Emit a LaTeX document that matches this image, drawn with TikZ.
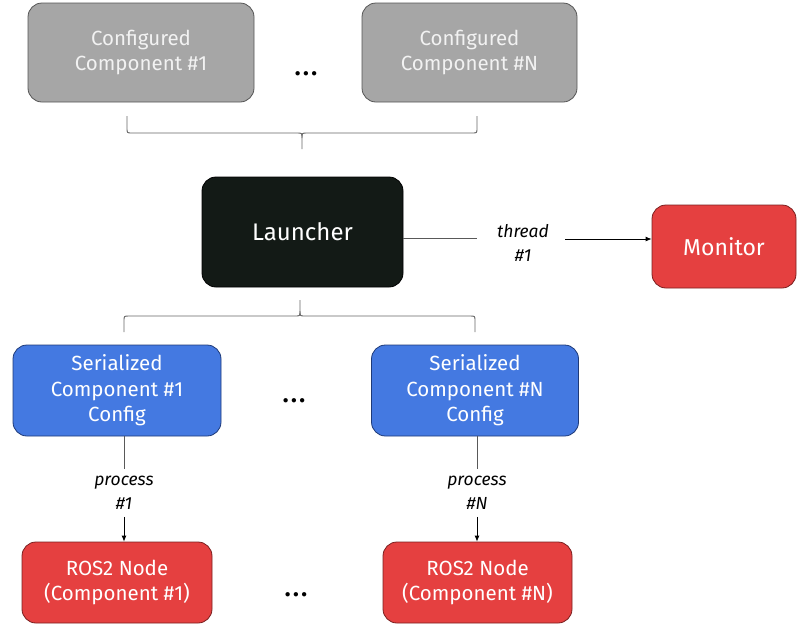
\documentclass[tikz,border=0pt]{standalone}
\usepackage{fontspec}
\setmainfont{Fira Sans}
\usetikzlibrary{arrows.meta}
\definecolor{cfggray}{HTML}{A6A6A6}
\definecolor{cfgline}{HTML}{555555}
\definecolor{launchfill}{HTML}{131A16}
\definecolor{nodered}{HTML}{E54040}
\definecolor{redline}{HTML}{7A1F1F}
\definecolor{serblue}{HTML}{4479E1}
\definecolor{blueline}{HTML}{1E3A78}
\tikzset{
  box/.style={rounded corners=14pt,draw,line width=.8pt,text=white,
    align=center,inner sep=0pt,font=\fontsize{20.5}{25.5}\selectfont},
  cfgbox/.style={box,fill=cfggray,draw=cfgline,text=white!95!black},
  launchbox/.style={box,fill=launchfill,draw=black,
    font=\fontsize{24}{28}\selectfont},
  redbox/.style={box,fill=nodered,draw=redline},
  bluebox/.style={box,fill=serblue,draw=blueline},
  lbl/.style={align=center,inner sep=0pt,font=\itshape\fontsize{17.5}{24}\selectfont},
  dots/.style={inner sep=0pt,font=\bfseries\fontsize{24}{26}\selectfont},
  brc/.style={draw=black!60,line width=.9pt},
  link/.style={draw=black!65,line width=.8pt},
  arr/.style={link,draw=black,-{Latex[length=6pt,width=5pt]}}
}
\newcommand\ddd{.\kern2.5pt.\kern2.5pt.}
\begin{document}
\begin{tikzpicture}[x=1pt,y=-1pt]
  \useasboundingbox (0,0) rectangle (802,633);
  % configured components
  \node[cfgbox,minimum width=226pt,minimum height=99pt] (cfg1) at (141,52.5)
    {Configured\\Component \#1};
  \node[dots] (cfgdots) at (306,74) {\ddd};
  \node[cfgbox,minimum width=215pt,minimum height=99pt] (cfgN) at (469.5,52.5)
    {Configured\\Component \#N};
  \draw[brc] (127,116) -- (127,128) .. controls (127,133) .. (132,133)
    -- (297,133) .. controls (302,133) .. (302,138) -- (302,149);
  \draw[brc] (477,116) -- (477,128) .. controls (477,133) .. (472,133)
    -- (307,133) .. controls (302,133) .. (302,138);
  % launcher and monitor
  \node[launchbox,minimum width=201pt,minimum height=110pt] (launcher)
    at (302.5,232) {Launcher};
  \node[redbox,minimum width=144pt,minimum height=83pt,
    font=\fontsize{23}{26}\selectfont] (monitor) at (724,246.5) {Monitor};
  \node[lbl] (thr) at (523,243) {thread\\\#1};
  \draw[link] ([yshift=5pt]thr.west -| launcher.east) -- ([xshift=-20pt,yshift=5pt]thr.west);
  \draw[arr] ([xshift=16pt,yshift=4pt]thr.east) -- ([yshift=4pt]thr.east -| monitor.west);
  \draw[brc] (124,332) -- (124,321) .. controls (124,316) .. (129,316)
    -- (295,316) .. controls (300,316) .. (300,311) -- (300,300);
  \draw[brc] (475,332) -- (475,321) .. controls (475,316) .. (470,316)
    -- (305,316) .. controls (300,316) .. (300,311);
  % serialized configs
  \node[bluebox,minimum width=208pt,minimum height=91pt] (ser1) at (117,390.5)
    {Serialized\\Component \#1\\Config};
  \node[dots] (serdots) at (294,401) {\ddd};
  \node[bluebox,minimum width=207pt,minimum height=91pt] (serN) at (475,390.5)
    {Serialized\\Component \#N\\Config};
  % processes
  \node[lbl] (proc1) at (124,493) {process\\\#1};
  \node[lbl] (procN) at (477,493) {process\\\#N};
  \node[redbox,minimum width=190pt,minimum height=81pt] (ros1) at (117,582.5)
    {ROS2 Node\\(Component \#1)};
  \node[dots] (rosdots) at (296,595) {\ddd};
  \node[redbox,minimum width=189pt,minimum height=81pt] (rosN) at (477.5,582.5)
    {ROS2 Node\\(Component \#N)};
  \draw[link] (proc1.north |- ser1.south) -- ([yshift=7pt]proc1.north);
  \draw[arr] ([yshift=-7pt]proc1.south) -- (proc1.south |- ros1.north);
  \draw[link] (procN.north |- serN.south) -- ([yshift=7pt]procN.north);
  \draw[arr] ([yshift=-7pt]procN.south) -- (procN.south |- rosN.north);
\end{tikzpicture}
\end{document}
